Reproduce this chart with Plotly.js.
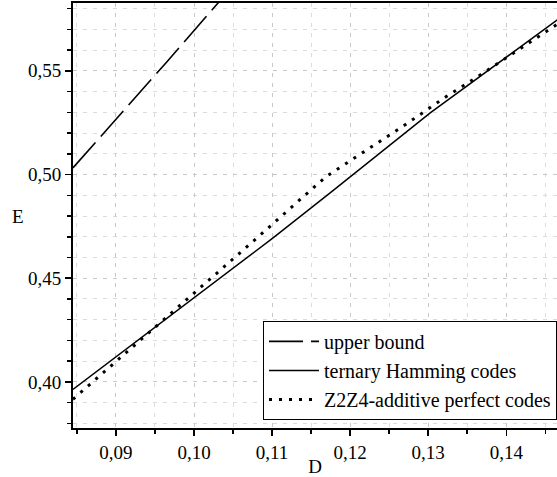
<!DOCTYPE html>
<html>
<head>
<meta charset="utf-8">
<script src="https://cdn.plot.ly/plotly-3.0.1.min.js"></script>
<style>
html,body{margin:0;padding:0;background:#fff;}
#chart{width:557px;height:477px;}
#chart svg text{font-family:"Liberation Serif" !important;}
#pad{position:absolute;left:0;top:0;width:1px;height:1px;overflow:hidden;color:#fff;font:1px monospace;}
</style>
</head>
<body>
<div id="chart"></div>
<div id="pad"></div>
<script>
// Upper bound (dashed)
const ubD = [0.08449, 0.09064, 0.09654, 0.10308, 0.10600];
const ubE = [0.50320, 0.52920, 0.55440, 0.58270, 0.59520];
// Ternary Hamming codes (solid)
const hamD = [0.08449, 0.08474, 0.09462, 0.11013, 0.11744, 0.13026, 0.14077, 0.14654];
const hamE = [0.39640, 0.39711, 0.42508, 0.46945, 0.49115, 0.52973, 0.55866, 0.57458];
// Z2Z4-additive perfect codes (dotted)
const z4D = [0.08449, 0.08487, 0.09064, 0.09650, 0.10235, 0.10817, 0.11401, 0.11692, 0.12128, 0.12671, 0.13218, 0.13753, 0.14286, 0.14606, 0.14654];
const z4E = [0.39166, 0.39291, 0.41191, 0.43149, 0.45048, 0.46977, 0.48934, 0.49899, 0.50979, 0.52310, 0.53727, 0.55010, 0.56331, 0.57131, 0.57247];
const seriesNames = ["upper bound", "ternary Hamming codes", "Z2Z4-additive perfect codes"];
const xTicks = [0.09, 0.10, 0.11, 0.12, 0.13, 0.14];
const yTicks = [0.40, 0.45, 0.50, 0.55];

const FONT = "Liberation Serif";
const traces = [
  {x: ubD, y: ubE, name: seriesNames[0], mode: "lines", line: {color: "#000", width: 1.6, dash: "34px,8px"}},
  {x: hamD, y: hamE, name: seriesNames[1], mode: "lines", line: {color: "#000", width: 1.5}},
  {x: z4D, y: z4E, name: seriesNames[2], mode: "lines", line: {color: "#000", width: 3, dash: "3px,7px"}}
];
const layout = {
  width: 557, height: 477,
  margin: {l: 73, r: 0, t: 3, b: 49},
  paper_bgcolor: "#fff", plot_bgcolor: "#fff",
  separators: ", ",
  font: {family: FONT, color: "#000", size: 19},
  showlegend: true,
  legend: {x: 1, xanchor: "right", y: 0.019, yanchor: "bottom", bgcolor: "#fff", bordercolor: "#000", borderwidth: 1,
           font: {family: FONT, size: 20, color: "#000"}, tracegroupgap: 0, itemwidth: 50},
  xaxis: {
    range: [0.0845, 0.1465], tickvals: xTicks, tickformat: ".2f",
    showline: true, linecolor: "#000", linewidth: 2, mirror: true,
    ticks: "outside", ticklen: 6, tickcolor: "#000", tickwidth: 1.5,
    showgrid: true, gridcolor: "#c8c8c8", griddash: "4px,6px", gridwidth: 1, zeroline: false,
    minor: {dtick: 0.005, tick0: 0.09, ticks: "outside", ticklen: 4, tickcolor: "#000", showgrid: true, gridcolor: "#dcdcdc", griddash: "4px,6px"},
    title: {text: "D", font: {family: FONT, size: 19, color: "#000"}, standoff: 2},
    tickfont: {family: FONT, size: 19, color: "#000"}
  },
  yaxis: {
    range: [0.3778, 0.5827], tickvals: yTicks, tickformat: ".2f",
    showline: true, linecolor: "#000", linewidth: 2, mirror: false,
    ticks: "outside", ticklen: 6, tickcolor: "#000", tickwidth: 1.5,
    showgrid: true, gridcolor: "#c8c8c8", griddash: "4px,6px", gridwidth: 1, zeroline: false,
    minor: {dtick: 0.01, tick0: 0.40, ticks: "outside", ticklen: 4, tickcolor: "#000", showgrid: true, gridcolor: "#dcdcdc", griddash: "4px,6px"},
    tickfont: {family: FONT, size: 19, color: "#000"}
  },
  annotations: [
    {text: "E", xref: "paper", yref: "paper", x: -0.114, y: 0.4965, xanchor: "center", yanchor: "middle",
     showarrow: false, font: {family: FONT, size: 19, color: "#000"}}
  ]
};
Plotly.newPlot("chart", traces, layout, {staticPlot: true, displayModeBar: false}).then(function () {
  const texts = document.querySelectorAll("#chart svg text");
  let s = "";
  texts.forEach(function (t) { s += getComputedStyle(t).fontFamily; });
  document.getElementById("pad").textContent = s.length ? "." : "";
  void document.body.offsetHeight;
});
</script>
</body>
</html>
